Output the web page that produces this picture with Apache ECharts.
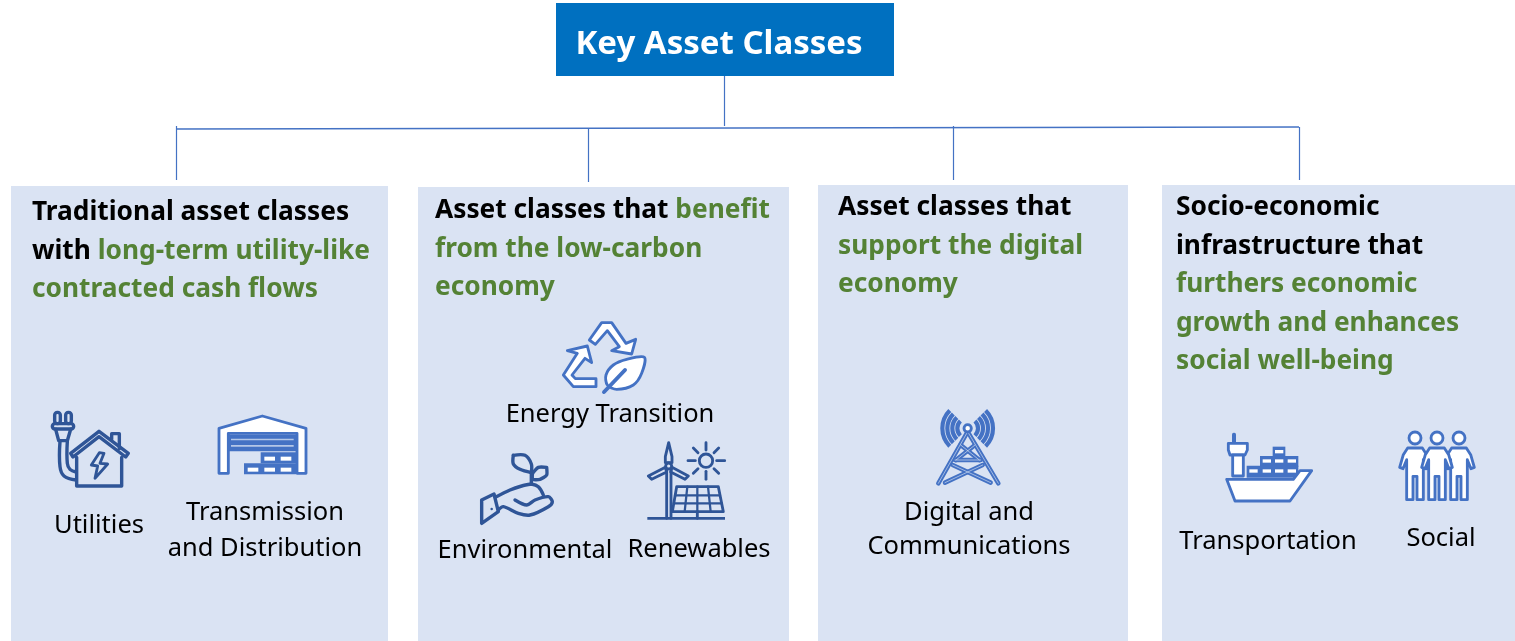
<!DOCTYPE html>
<html>
<head>
<meta charset="utf-8">
<style>html,body{margin:0;padding:0;background:#fff}#c{width:1515px;height:641px}</style>
<script src="https://cdn.jsdelivr.net/npm/echarts@6/dist/echarts.min.js"></script>
</head>
<body>
<div id="c"></div>
<script>
const titleText = 'Key Asset Classes';
const headings = [
  [[['a','Traditional asset classes']], [['a','with '],['g','long-term utility-like']], [['g','contracted cash flows']]],
  [[['a','Asset classes that '],['g','benefit']], [['g','from the low-carbon']], [['g','economy']]],
  [[['a','Asset classes that']], [['g','support the digital']], [['g','economy']]],
  [[['a','Socio-economic']], [['a','infrastructure that']], [['g','furthers economic']], [['g','growth and enhances']], [['g','social well-being']]]
];
const labels = ['Utilities','Transmission','and Distribution','Energy Transition','Environmental','Renewables','Digital and','Communications','Transportation','Social'];

const FONT = '"Noto Sans","Open Sans",sans-serif';
const BLUE = '#4472C4', DARK = '#2F5597', BOX = '#DAE3F3', TITLE = '#0070C0', GREEN = '#548235';
const K = 1.7; // icon stroke weight
const els = [];
const rect = (x,y,width,height,fill,z) => ({type:'rect',z:z||1,shape:{x,y,width,height},style:{fill}});
const line = (x1,y1,x2,y2,w) => ({type:'line',z:2,shape:{x1,y1,x2,y2},style:{stroke:BLUE,lineWidth:w||1.2}});

// panels
[[11,186,377,455],[418,187,371,454],[818,185,310,456],[1162,185,353,456]].forEach(b=>els.push(rect(b[0],b[1],b[2],b[3],BOX)));
// title
els.push(rect(556,3,338,73,TITLE));
els.push({type:'text',z:3,x:719,y:45,style:{text:titleText,font:'bold 33px '+FONT,fill:'#fff',align:'center',verticalAlign:'middle'}});
// connectors
els.push(line(724.5,76,724.5,126), line(176,129,1299,127,1.6), line(176.5,126,176.5,180), line(588.5,128,588.5,182), line(953.5,126,953.5,180), line(1299.5,127,1299.5,180));

// headings
const headPos = [[32,213],[435,211],[838,208],[1176,208]];
const STEP = 38.5;
headings.forEach((h,i)=>{
  h.forEach((row,j)=>{
    els.push({type:'text',z:3,x:headPos[i][0],y:headPos[i][1]+j*STEP,style:{
      text:row.map(s=>'{'+s[0]+'|'+s[1]+'}').join(''),align:'left',verticalAlign:'middle',
      rich:{a:{font:'bold 26.3px '+FONT,fill:'#000'},g:{font:'bold 26.3px '+FONT,fill:GREEN}}
    }});
  });
});
// labels
const labelPos = [[99,526],[265,513],[265,549],[610,415],[525,551],[699,550],[969,513],[969,547],[1268,542],[1441,539]];
labels.forEach((t,i)=>els.push({type:'text',z:3,x:labelPos[i][0],y:labelPos[i][1],style:{text:t,font:'25.5px '+FONT,fill:'#000',align:'center',verticalAlign:'middle'}}));

// icon primitives (authored in 3x crop units; the group scales them down)
const pg=(points,fill,stroke,lw,smooth)=>({type:'polygon',shape:{points,smooth:smooth||0},style:{fill:fill||'none',stroke:stroke||null,lineWidth:(lw||0)*K,lineJoin:'round'}});
const pl=(points,stroke,lw,smooth)=>({type:'polyline',shape:{points,smooth:smooth||0},style:{fill:'none',stroke,lineWidth:lw*K,lineCap:'round',lineJoin:'round'}});
const rc=(x,y,width,height,fill,r,stroke,lw)=>({type:'rect',shape:{x,y,width,height,r:r||0},style:{fill:fill||'none',stroke:stroke||null,lineWidth:(lw||0)*K}});
const ci=(cx,cy,r,fill,stroke,lw)=>({type:'circle',shape:{cx,cy,r},style:{fill:fill||'none',stroke,lineWidth:lw*K}});
const ar=(cx,cy,r,a,b,stroke,lw)=>({type:'arc',shape:{cx,cy,r,startAngle:a,endAngle:b,clockwise:true},style:{fill:'none',stroke,lineWidth:lw}});
const icon=(x,y,children)=>els.push({type:'group',z:4,x,y,scaleX:1/3,scaleY:1/3,children:children.map(c=>Object.assign({z:4},c))});

// utilities + warehouse
const W='#fff';
icon(30,400,[
  rc(74,37,17,34,null,8,DARK,6), rc(107,37,17,34,null,8,DARK,6), rc(67,71,64,16,null,8,DARK,6),
  pl([[77,88],[86,122],[112,122],[122,88]],DARK,6),
  pl([[90,124],[90,200],[102,228],[138,240]],DARK,6,0.4), pl([[112,124],[112,190],[120,208],[138,216]],DARK,6,0.4),
  pg([[122,160],[207,94],[295,160],[287,171],[207,110],[129,171]],null,DARK,6),
  pl([[245,118],[245,101],[268,101],[268,146]],DARK,6),
  pl([[140,172],[140,258],[275,258],[275,172]],DARK,6),
  pg([[208,158],[184,195],[203,198],[195,235],[233,192],[210,190],[222,160]],null,DARK,5),
  pg([[567,85],[697,48],[828,85],[828,220],[801,220],[801,100],[595,100],[595,220],[567,220]],W,BLUE,5),
  rc(595,104,206,50,BLUE), rc(603,116,188,5,'#B4C7E7'), rc(603,135,188,5,'#B4C7E7'),
  rc(692,157,106,33,BLUE), rc(642,190,156,33,BLUE),
  rc(703,170,32,12,W), rc(752,170,32,12,W), rc(653,203,32,12,W), rc(703,203,32,12,W), rc(752,203,32,12,W)
]);

// recycling, seedling, turbine & solar
const rays=[[708,398,708,420],[708,484,708,508],[654,452,676,452],[740,452,764,452],[670,414,684,428],[746,414,732,428],[670,490,684,476],[746,490,732,476]];
icon(470,310,[
  pg([[358,90],[395,38],[425,38],[468,100],[497,88],[485,132],[425,122],[448,110],[412,62],[376,103]],W,BLUE,5),
  pg([[378,230],[310,230],[280,195],[322,130],[292,122],[352,108],[365,158],[345,145],[306,195],[316,206],[378,206]],W,BLUE,5),
  pg([[523,142],[470,148],[430,165],[408,195],[412,225],[440,238],[490,225],[515,190]],W,BLUE,5,0.3),
  pl([[402,246],[425,222],[465,180]],BLUE,7),
  pl([[130,436],[165,436],[184,462],[184,488]],DARK,6,0.3), pl([[130,436],[130,462],[150,478],[184,488]],DARK,6,0.3),
  pl([[230,472],[230,495],[210,508],[188,508],[188,490],[205,472],[230,472]],DARK,6,0.2),
  pl([[184,488],[184,522]],DARK,6), pl([[184,522],[205,530],[220,555]],DARK,6,0.4),
  pg([[35,570],[72,552],[85,605],[35,640]],null,DARK,6), ci(65,597,2,DARK,DARK,2),
  pl([[76,562],[120,540],[155,528],[184,522]],DARK,6,0.3),
  pl([[135,570],[170,585],[195,570],[235,560],[247,575],[235,590],[180,615],[145,610],[100,590],[85,600]],DARK,6,0.3),
  pg([[596,398],[606,440],[606,458],[586,458],[586,440]],null,DARK,5), ci(596,468,9,null,DARK,5),
  pg([[586,472],[535,498],[545,508],[590,486]],null,DARK,5), pg([[606,472],[655,498],[645,508],[602,486]],null,DARK,5),
  pl([[590,482],[590,625]],DARK,5), pl([[603,482],[603,625]],DARK,5),
  ci(708,452,20,null,DARK,5)
].concat(rays.map(r=>pl([[r[0],r[1]],[r[2],r[3]]],DARK,5))).concat([
  pg([[620,530],[745,530],[760,605],[607,605]],null,DARK,5),
  pl([[652,530],[644,605]],DARK,4), pl([[682,530],[682,605]],DARK,4), pl([[714,530],[722,605]],DARK,4),
  pl([[615,556],[750,556]],DARK,4), pl([[611,580],[755,580]],DARK,4),
  pl([[682,605],[682,625]],DARK,5), rc(532,621,233,8,DARK)
]));

// antenna mast
const fan=[31,46,61,76];
const mast=[[143,95,55,250],[143,95,235,250],[122,135,178,180],[165,135,108,180],[105,180,182,180],[98,195,212,248],[188,195,75,248]];
icon(920,400,fan.map(r=>ar(143,85,r,0.75*Math.PI,1.25*Math.PI,BLUE,12.5))
  .concat(fan.map(r=>ar(143,85,r,-0.25*Math.PI,0.25*Math.PI,BLUE,12.5)))
  .concat(mast.map(m=>pl([[m[0],m[1]],[m[2],m[3]]],BLUE,8)))
  .concat(mast.map(m=>pl([[m[0],m[1]],[m[2],m[3]]],'#EAF0FA',1)))
  .concat([ci(143,85,11,W,BLUE,5)]));

// ship + people
const person=c=>pg([[-22,30],[22,30],[35,50],[46,88],[36,92],[25,65],[25,185],[6,185],[6,115],[-6,115],[-6,185],[-25,185],[-25,65],[-36,92],[-46,88],[-35,50]].map(p=>[p[0]+c,p[1]+54]),W,BLUE,5);
const containers=[[195,90],[158,118],[195,118],[233,118],[118,148],[158,148],[195,148],[233,148]];
icon(1210,420,[
  rc(66,38,12,34,BLUE,5),
  pg([[55,70],[112,70],[112,90],[105,105],[60,105],[55,90]],W,BLUE,5),
  pg([[68,105],[100,105],[100,168],[68,168]],W,BLUE,5),
  rc(188,80,38,30,BLUE), rc(150,108,115,32,BLUE), rc(110,137,155,36,BLUE)
].concat(containers.map(p=>rc(p[0],p[1],25,10,W))).concat([
  pg([[50,178],[250,178],[270,152],[305,152],[240,243],[75,243]],W,BLUE,5),
  person(615),person(747),person(681),
  ci(615,54,18,W,BLUE,5),ci(681,54,18,W,BLUE,5),ci(747,54,18,W,BLUE,5)
]));

const chart = echarts.init(document.getElementById('c'),null,{renderer:'canvas'});
chart.setOption({animation:false,backgroundColor:'#fff',graphic:{elements:els}});
</script>
</body>
</html>
